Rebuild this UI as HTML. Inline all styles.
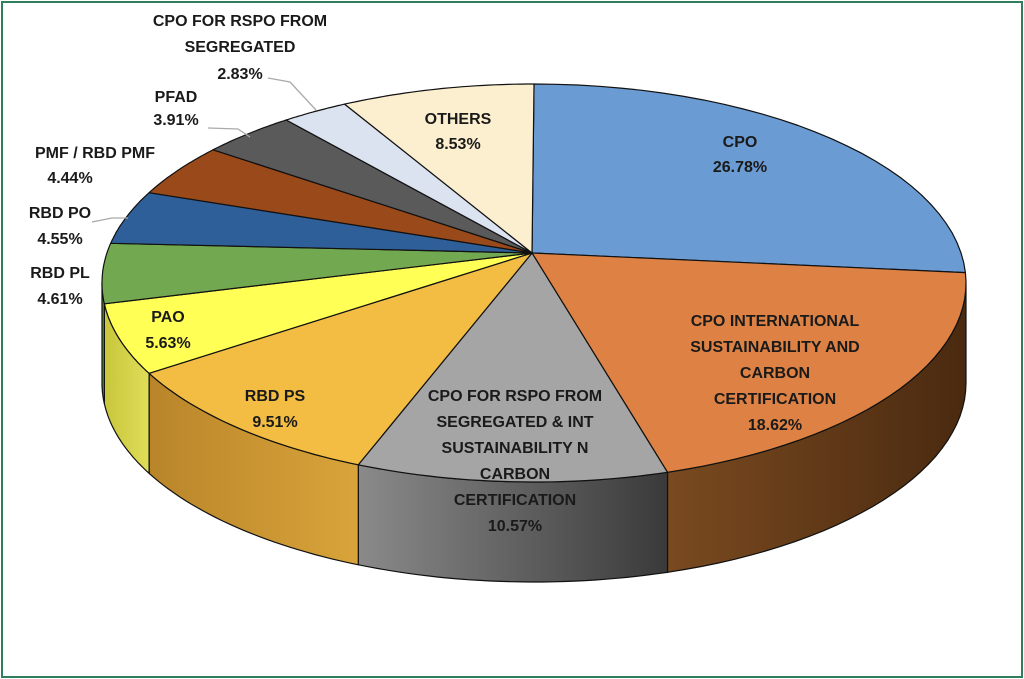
<!DOCTYPE html>
<html><head><meta charset="utf-8"><style>
html,body{margin:0;padding:0;background:#fff}
svg{display:block}
text{font-family:"Liberation Sans Narrow","Liberation Sans",sans-serif;font-weight:bold;font-size:16px;fill:#1a1a1a;text-anchor:middle}
</style></head><body>
<svg id="s" width="1024" height="679" viewBox="0 0 1024 679" xmlns="http://www.w3.org/2000/svg">
<defs>
<linearGradient id="gI" x1="0" x2="1"><stop offset="0" stop-color="#7a4a20"/><stop offset="1" stop-color="#4a2a10"/></linearGradient>
<linearGradient id="gG" x1="0" x2="1"><stop offset="0" stop-color="#8a8a8a"/><stop offset="1" stop-color="#3a3a3a"/></linearGradient>
<linearGradient id="gP" x1="0" x2="1"><stop offset="0" stop-color="#b9852a"/><stop offset="1" stop-color="#d9a43a"/></linearGradient>
<linearGradient id="gY" x1="0" x2="1"><stop offset="0" stop-color="#c8c63c"/><stop offset="1" stop-color="#e0de58"/></linearGradient>
</defs>
<rect x="2" y="2" width="1020" height="675" fill="#fff" stroke="#2f7f5f" stroke-width="2"/>
<g id="pie"></g>
<g stroke="#aaa" stroke-width="1.3" fill="none">
<polyline points="268,78 290,82 316,110"/>
<polyline points="208,128 238,129 250,137"/>
<polyline points="92,222 112,218 128,218"/>
</g>
<text x="240" y="26">CPO FOR RSPO FROM</text>
<text x="240" y="52">SEGREGATED</text>
<text x="240" y="79">2.83%</text>
<text x="176" y="102">PFAD</text>
<text x="176" y="125">3.91%</text>
<text x="95" y="158">PMF / RBD PMF</text>
<text x="70" y="183">4.44%</text>
<text x="60" y="218">RBD PO</text>
<text x="60" y="244">4.55%</text>
<text x="60" y="278">RBD PL</text>
<text x="60" y="304">4.61%</text>
<text x="168" y="322">PAO</text>
<text x="168" y="348">5.63%</text>
<text x="458" y="124">OTHERS</text>
<text x="458" y="149">8.53%</text>
<text x="740" y="147">CPO</text>
<text x="740" y="172">26.78%</text>
<text x="775" y="326">CPO INTERNATIONAL</text>
<text x="775" y="352">SUSTAINABILITY AND</text>
<text x="775" y="378">CARBON</text>
<text x="775" y="404">CERTIFICATION</text>
<text x="775" y="430">18.62%</text>
<text x="275" y="401">RBD PS</text>
<text x="275" y="427">9.51%</text>
<text x="515" y="401">CPO FOR RSPO FROM</text>
<text x="515" y="427">SEGREGATED &amp; INT</text>
<text x="515" y="453">SUSTAINABILITY N</text>
<text x="515" y="479">CARBON</text>
<text x="515" y="505">CERTIFICATION</text>
<text x="515" y="531">10.57%</text>
</svg>
<script>
var cx=534,cy=283,rx=432,ry=199,D=100,px=532,py=253;
var sl=[
[-90,-3,"#6a9bd2",null],
[-3,72,"#dd8244","url(#gI)"],
[72,114,"#a5a5a5","url(#gG)"],
[114,153,"#f2bd42","url(#gP)"],
[153,174,"#ffff55","url(#gY)"],
[174,191.5,"#72a850","#5a8a3a"],
[191.5,207,"#2f5f98",null],
[207,222,"#9a4a1a",null],
[222,235,"#5a5a5a",null],
[235,244,"#dbe2f0",null],
[244,270,"#fbefd0",null]];
function P(t,d){t=t*Math.PI/180;return [cx+rx*Math.cos(t),cy+ry*Math.sin(t)+(d||0)];}
function arc(a,b,d){var s="",n=30;for(var i=0;i<=n;i++){var p=P(a+(b-a)*i/n,d);s+=(i?"L":"")+p[0].toFixed(1)+","+p[1].toFixed(1)+" ";}return s;}
var g=document.getElementById("pie"),h="";
sl.forEach(function(s){
 if(!s[3])return;var a=Math.max(s[0],0),b=Math.min(s[1],180);if(b<=a)return;
 h+='<path d="M'+arc(a,b,0)+'L'+arc(b,a,D)+'Z" fill="'+s[3]+'" stroke="#111" stroke-width="1.2"/>';
});
sl.forEach(function(s){
 h+='<path d="M'+px+','+py+' L'+arc(s[0],s[1],0)+'Z" fill="'+s[2]+'" stroke="#111" stroke-width="1.2" stroke-linejoin="round"/>';
});
g.innerHTML=h;
</script>
</body></html>
